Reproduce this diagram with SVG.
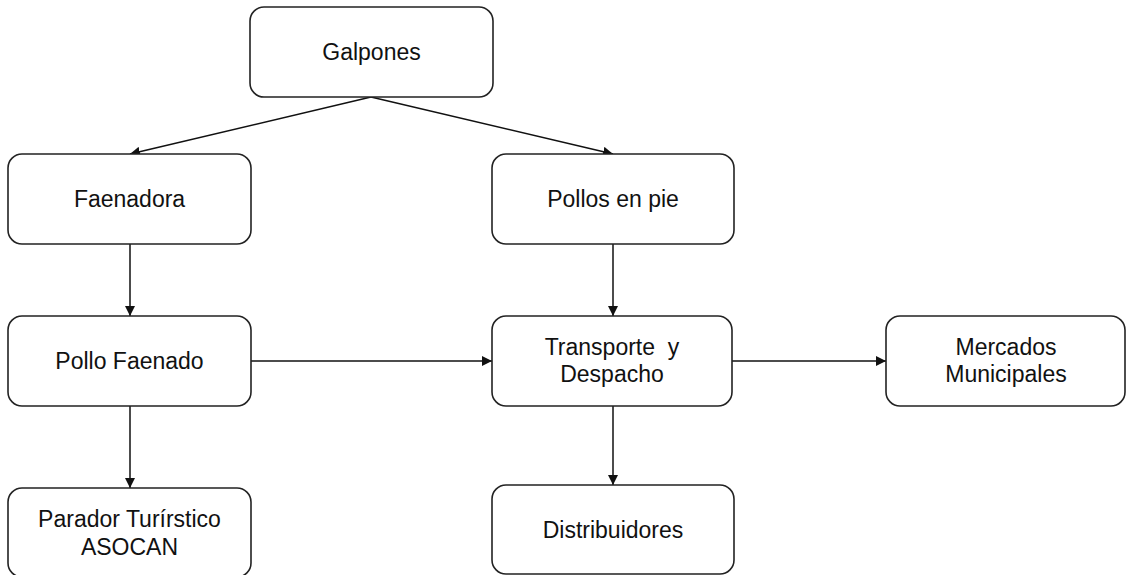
<svg xmlns="http://www.w3.org/2000/svg" width="1126" height="575" viewBox="0 0 1126 575">
<style>
.box{fill:#fff;stroke:#222;stroke-width:1.6}
.t{font-family:"Liberation Sans",Arial,sans-serif;font-size:23px;fill:#111;text-anchor:middle}
.c{stroke:#111;stroke-width:1.5;fill:none;marker-end:url(#ah)}
</style>
<defs>
<marker id="ah" viewBox="0 0 10 10" refX="10" refY="5" markerWidth="10" markerHeight="10" markerUnits="userSpaceOnUse" orient="auto">
<path d="M0,0 L10,5 L0,10 z" fill="#111"/>
</marker>
</defs>
<rect width="1126" height="575" fill="#fff"/>
<g id="connectors">
<path class="c" d="M371,97 L130,154"/>
<path class="c" d="M371,97 L613,154"/>
<path class="c" d="M130,244 L130,316"/>
<path class="c" d="M613,244 L613,316"/>
<path class="c" d="M251,361 L492,361"/>
<path class="c" d="M732,361 L886,361"/>
<path class="c" d="M130,406 L130,488"/>
<path class="c" d="M613,406 L613,485"/>
</g>
<g id="galpones"><rect class="box" x="250" y="7" width="243" height="90" rx="14"/><text class="t" x="371.5" y="60">Galpones</text></g>
<g id="faenadora"><rect class="box" x="8" y="154" width="243" height="90" rx="14"/><text class="t" x="129.5" y="207">Faenadora</text></g>
<g id="pollos-en-pie"><rect class="box" x="492" y="154" width="242" height="90" rx="14"/><text class="t" x="613" y="207">Pollos en pie</text></g>
<g id="pollo-faenado"><rect class="box" x="8" y="316" width="243" height="90" rx="14"/><text class="t" x="129.5" y="369">Pollo Faenado</text></g>
<g id="transporte"><rect class="box" x="492" y="316" width="240" height="90" rx="14"/><text class="t" x="612" y="355" xml:space="preserve">Transporte  y</text><text class="t" x="612" y="382">Despacho</text></g>
<g id="mercados"><rect class="box" x="886" y="316" width="239" height="90" rx="14"/><text class="t" x="1006" y="355">Mercados</text><text class="t" x="1006" y="382">Municipales</text></g>
<g id="parador"><rect class="box" x="8" y="488" width="243" height="89" rx="14"/><text class="t" x="129.5" y="527">Parador Turírstico</text><text class="t" x="129.5" y="555">ASOCAN</text></g>
<g id="distribuidores"><rect class="box" x="492" y="485" width="242" height="89" rx="14"/><text class="t" x="613" y="538">Distribuidores</text></g>
</svg>
